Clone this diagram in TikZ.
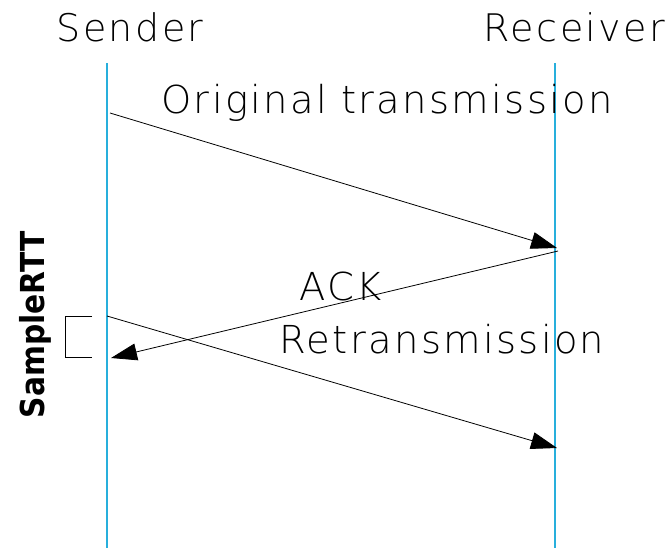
\documentclass[tikz,border=0pt]{standalone}
\usepackage{fontspec}
\setmainfont{DejaVu Sans}[UprightFont=* ExtraLight, BoldFont=DejaVu Sans Condensed Bold]
\usetikzlibrary{arrows.meta}
\definecolor{lifeline}{RGB}{40,175,220}
\tikzset{
  lane/.style={draw=lifeline, line width=1.1pt},
  msg/.style={draw=black, line width=0.8pt, -{Triangle[length=26pt,width=17pt]}},
  title/.style={font=\fontsize{38}{40}\selectfont\addfontfeatures{LetterSpace=6.5}, inner sep=0pt},
  label/.style={font=\fontsize{38.5}{40}\selectfont\addfontfeatures{LetterSpace=6}, inner sep=0pt},
}
\begin{document}
\begin{tikzpicture}[x=1pt, y=-1pt]
  \useasboundingbox (0,0) rectangle (671,550);
  % lifelines
  \coordinate (sTop) at (107,63);
  \coordinate (sBot) at (107,548);
  \coordinate (rTop) at (555,63);
  \coordinate (rBot) at (555,548);
  \draw[lane] (sTop) -- (sBot);
  \draw[lane] (rTop) -- (rBot);
  % headers
  \node[title] (sender) at (130,27) {Sender};
  \node[title] (receiver) at (574.5,27) {Receiver};
  % messages
  \coordinate (o1) at (110,113);
  \coordinate (o2) at (557,248);
  \coordinate (a1) at (558,251);
  \coordinate (a2) at (111,358);
  \coordinate (t1) at (107,316);
  \coordinate (t2) at (557,448);
  \draw[msg] (o1) -- (o2);
  \draw[msg] (a1) -- (a2);
  \draw[msg] (t1) -- (t2);
  \node[label] (orig) at (387,103) {Original transmission};
  \node[label] (ack) at (341,286) {ACK};
  \node[label] (retx) at (442,339) {Retransmission};
  % timer bracket
  \coordinate (b1) at (92,316);
  \coordinate (b2) at (65,316);
  \coordinate (b3) at (65,357);
  \coordinate (b4) at (92,357);
  \draw[line width=0.8pt] (b1) -- (b2) -- (b3) -- (b4);
  \node[font=\fontsize{33}{36}\selectfont\bfseries, rotate=90, inner sep=0pt] (rtt) at (35,325) {SampleRTT};
\end{tikzpicture}
\end{document}
